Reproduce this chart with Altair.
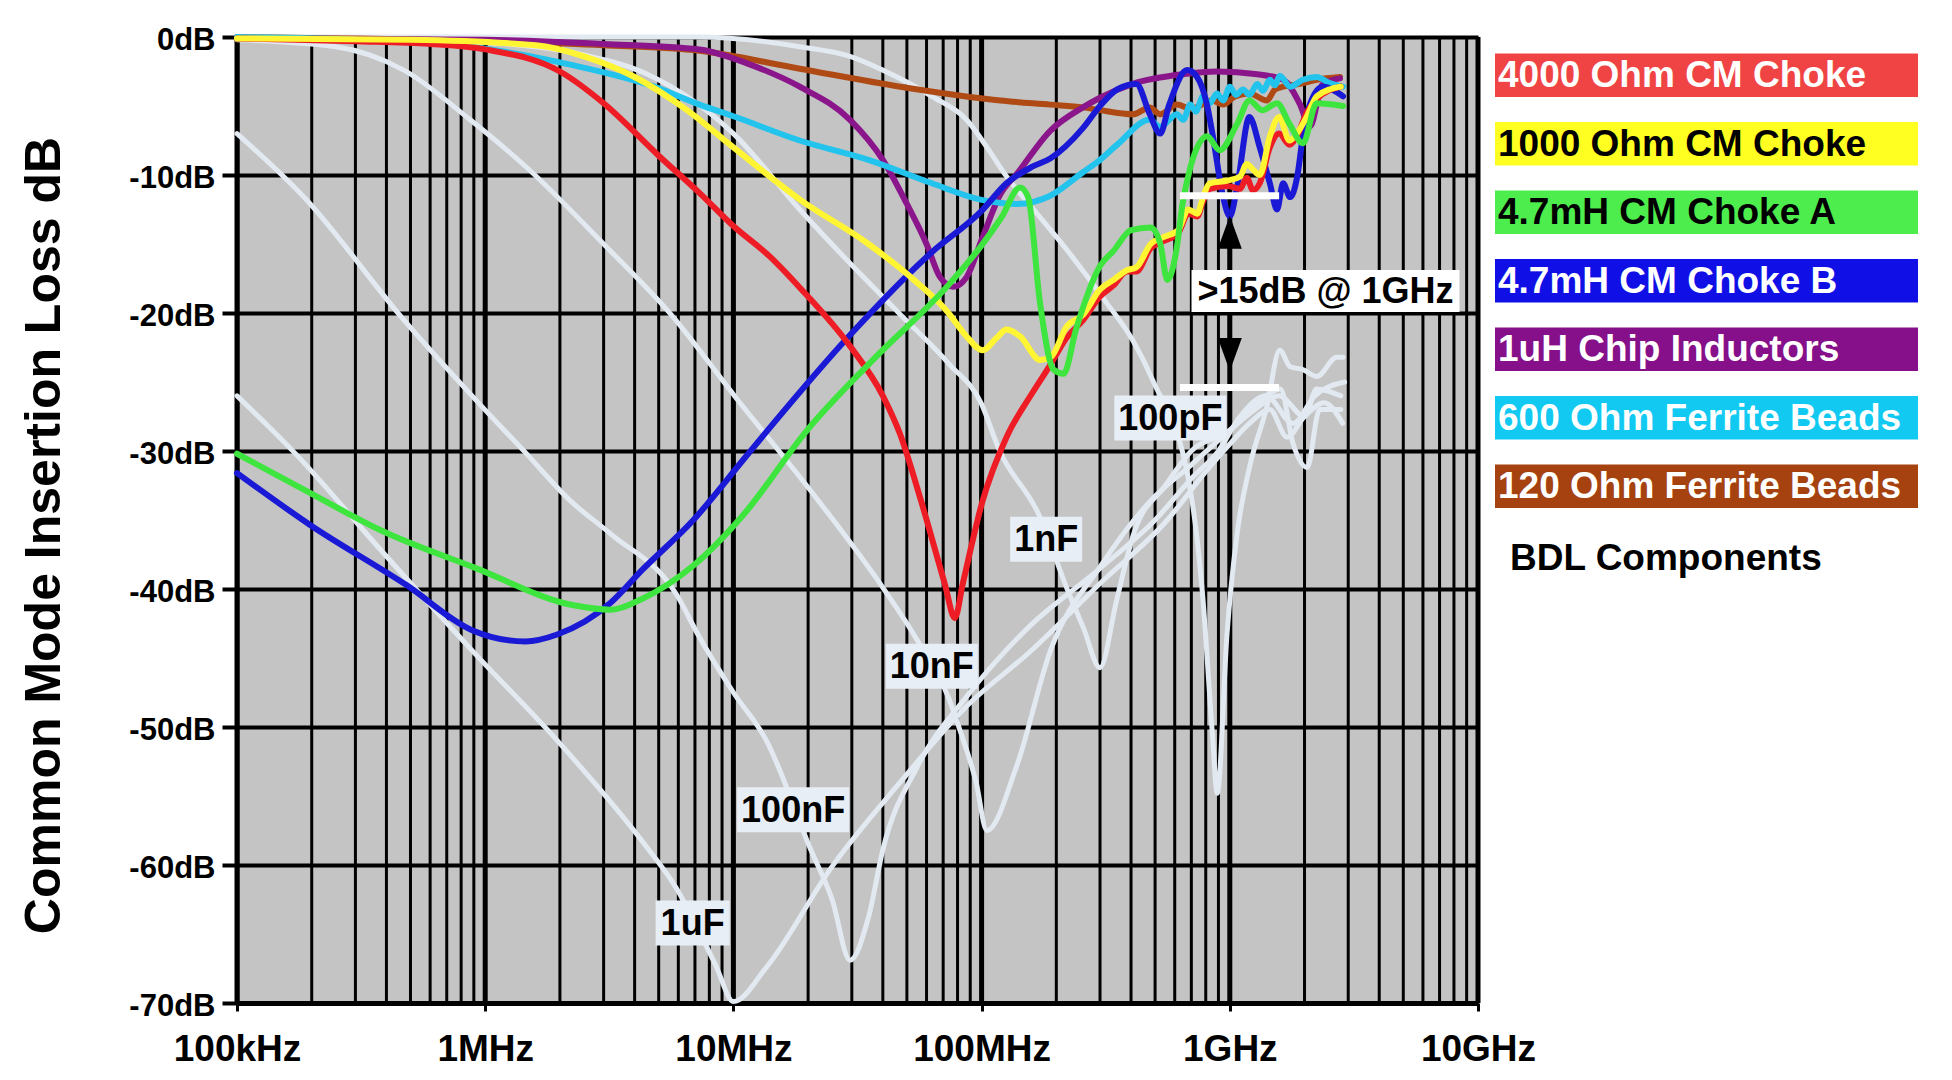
import altair as alt
import pandas as pd

FONT = "Liberation Sans"

# ---------------- data: frequency (Hz) and insertion loss (dB) ----------------
red_f = [1e5, 3e5, 6e5, 1e6, 2e6, 3e6, 5e6, 7.4e6, 1e7, 1.4e7, 1.86e7, 2.95e7, 4e7, 4.7e7, 5.7e7, 7.1e7, 7.8e7, 8.4e7,
         1.01e8, 1.26e8, 1.6e8, 1.9e8, 2.2e8, 2.57e8, 3e8, 3.4e8, 3.85e8, 4.2e8, 4.8e8, 5.4e8, 6.2e8, 6.8e8, 7.4e8,
         7.8e8, 8.3e8, 9.8e8, 1.1e9, 1.17e9, 1.24e9, 1.32e9, 1.45e9, 1.58e9, 1.74e9, 1.86e9, 2.04e9, 2.24e9, 2.8e9]
red_db = [-0.1, -0.3, -0.5, -0.9, -2.5, -4.8, -8.6, -11.4, -13.7, -15.9, -18.2, -22.4, -26.0, -28.8, -33.6, -39.6,
          -42.1, -39.6, -33.6, -29.0, -25.8, -23.7, -21.8, -20.5, -18.8, -18.0, -17.0, -17.0, -15.3, -14.8, -14.2,
          -12.8, -13.0, -11.9, -11.0, -10.8, -11.0, -10.2, -11.1, -10.6, -8.0, -7.0, -7.8, -7.2, -5.5, -4.5, -3.6]

yellow_f = [1e5, 5e5, 1.6e6, 2.5e6, 4e6, 6.5e6, 1e7, 1.86e7, 3.5e7, 5.5e7, 7.2e7, 8.7e7, 1.01e8, 1.15e8, 1.26e8,
            1.43e8, 1.72e8, 1.9e8, 2.2e8, 2.57e8, 3e8, 3.4e8, 3.85e8, 4.2e8, 4.8e8, 5.4e8, 6.2e8, 6.8e8, 7.4e8, 7.8e8,
            8.3e8, 9.8e8, 1.1e9, 1.17e9, 1.24e9, 1.32e9, 1.45e9, 1.58e9, 1.74e9, 1.86e9, 2.04e9, 2.24e9, 2.8e9]
yellow_db = [-0.1, -0.2, -0.6, -1.4, -2.9, -5.3, -8.0, -11.8, -15.0, -17.8, -19.8, -21.7, -22.7, -21.8, -21.2,
             -21.7, -23.4, -23.2, -21.0, -20.1, -18.3, -17.6, -16.9, -16.7, -15.0, -14.5, -14.0, -12.5, -12.8, -11.6,
             -10.6, -10.4, -10.1, -9.2, -9.6, -10.0, -7.2, -5.8, -7.5, -7.0, -5.8, -4.3, -3.6]

green_f = [1e5, 1.86e5, 3.85e5, 8.9e5, 2.3e6, 3.2e6, 4.3e6, 6.9e6, 1.1e7, 1.98e7, 3.6e7, 7.5e7, 1e8, 1.2e8, 1.43e8,
           1.54e8, 1.72e8, 1.95e8, 2.14e8, 2.4e8, 3e8, 3.4e8, 4e8, 4.8e8, 5.25e8, 5.6e8, 6.1e8, 6.45e8, 6.9e8, 8.1e8,
           9.1e8, 1.07e9, 1.2e9, 1.35e9, 1.55e9, 1.74e9, 1.97e9, 2.24e9, 2.86e9]
green_db = [-30.2, -32.8, -35.8, -38.4, -41.2, -41.5, -40.7, -38.3, -34.6, -28.5, -23.5, -17.8, -15.1, -13.1, -10.9,
            -11.6, -19.3, -24.1, -24.4, -21.2, -16.6, -15.5, -14.0, -13.8, -15.0, -17.6, -15.4, -12.1, -9.6, -7.2,
            -8.2, -6.3, -4.6, -5.3, -4.8, -6.3, -7.7, -4.8, -5.0]

blue_f = [1e5, 1.95e5, 4.8e5, 8.9e5, 1.45e6, 1.95e6, 3.2e6, 4.3e6, 6.9e6, 1.1e7, 1.36e7, 2.95e7, 6.3e7, 1e8, 1.26e8,
          1.6e8, 1.89e8, 2.56e8, 3.0e8, 3.52e8, 4.2e8, 4.76e8, 5.24e8, 5.7e8, 6.73e8, 7.38e8, 8.09e8, 8.55e8, 9.4e8,
          1.0e9, 1.07e9, 1.2e9, 1.32e9, 1.45e9, 1.55e9, 1.64e9, 1.75e9, 1.87e9, 1.97e9, 2.1e9, 2.37e9, 2.86e9]
blue_db = [-31.6, -35.3, -39.7, -43.0, -43.8, -43.3, -41.0, -38.6, -35.0, -30.6, -28.6, -21.6, -15.6, -12.6, -10.6,
           -9.4, -8.8, -6.6, -5.0, -3.8, -3.4, -5.6, -7.0, -4.9, -2.4, -2.9, -4.9, -7.2, -11.6, -13.0, -10.9, -5.8,
           -8.0, -10.6, -12.5, -10.6, -11.6, -10.1, -7.2, -4.9, -3.6, -4.3]

purple_f = [1e5, 1e6, 3e6, 7.3e6, 1.17e7, 1.85e7, 2.95e7, 4.0e7, 5.0e7, 6.0e7, 6.8e7, 7.7e7, 8.7e7, 1.01e8, 1.19e8,
            1.39e8, 1.89e8, 2.56e8, 3e8, 4.07e8, 6.47e8, 8.87e8, 1.29e9, 1.64e9, 1.92e9, 2.1e9, 2.37e9, 2.78e9]
purple_db = [-0.1, -0.2, -0.5, -0.9, -2.0, -3.6, -6.0, -8.9, -12.1, -15.0, -17.4, -18.1, -17.4, -14.5, -11.4, -9.9,
             -6.8, -5.1, -4.4, -3.4, -2.7, -2.5, -2.7, -3.1, -4.9, -6.5, -3.4, -3.0]

cyan_f = [1e5, 3e5, 8.7e5, 2.2e6, 4.8e6, 7.3e6, 1.02e7, 1.85e7, 3.5e7, 6.3e7, 1e8, 1.39e8, 1.89e8, 2.56e8, 3e8,
          3.52e8, 4.76e8, 5.24e8, 6.12e8, 6.5e8, 6.92e8, 7.3e8, 7.8e8, 8.3e8, 8.87e8, 9.4e8, 1e9, 1.06e9, 1.13e9,
          1.2e9, 1.29e9, 1.36e9, 1.45e9, 1.52e9, 1.59e9, 1.75e9, 1.97e9, 2.24e9, 2.5e9, 2.86e9]
cyan_db = [0.0, -0.2, -0.7, -2.0, -3.6, -4.9, -5.8, -7.5, -8.9, -10.6, -11.8, -12.1, -11.5, -9.8, -8.9, -7.8, -6.0,
           -6.5, -5.6, -6.0, -4.9, -5.4, -4.3, -4.8, -4.1, -4.6, -3.6, -4.2, -3.8, -4.2, -3.4, -3.9, -3.1, -3.5,
           -2.8, -3.6, -3.1, -2.9, -3.3, -3.6]

brown_f = [1e5, 1e6, 3e6, 7.3e6, 1.85e7, 4.7e7, 1.19e8, 1.89e8, 2.56e8, 3e8, 4.07e8, 4.76e8, 5.24e8, 6.12e8, 7e8,
           8.5e8, 9.4e8, 1.05e9, 1.2e9, 1.41e9, 1.52e9, 1.64e9, 1.92e9, 2.24e9, 2.78e9]
brown_db = [0.0, -0.3, -0.6, -1.0, -2.3, -3.6, -4.6, -4.9, -5.1, -5.3, -5.6, -5.1, -5.6, -4.9, -5.2, -4.6, -4.9,
            -4.3, -4.1, -4.6, -3.8, -3.6, -3.4, -3.1, -2.9]

# capacitor reference curves
c1uF_f = [1e5, 1.7e5, 3.85e5, 8.9e5, 2e6, 4.3e6, 5.9e6, 8.5e6, 1e7, 1.36e7, 2.5e7, 4.7e7, 8.7e7, 1.6e8, 3e8, 5.6e8,
          8e8, 1e9, 1.2e9, 1.45e9, 1.7e9, 2e9, 2.4e9, 2.85e9]
c1uF_db = [-26.0, -30.1, -37.3, -44.5, -51.2, -58.3, -61.7, -67.3, -69.9, -67.4, -60.1, -54.0, -48.5, -44.4, -39.6,
           -35.0, -31.5, -29.5, -28.0, -27.0, -29.0, -27.5, -26.5, -28.0]

c100nF_f = [1e5, 1.86e5, 4.7e5, 9.5e5, 1.45e6, 2.2e6, 3.2e6, 5.9e6, 7.3e6, 1e7, 1.36e7, 2.05e7, 2.5e7, 2.95e7,
            3.5e7, 4e7, 5.5e7, 8.7e7, 1.5e8, 3e8, 5e8, 7e8, 9e8, 1.1e9, 1.4e9, 1.8e9, 2.2e9, 2.9e9]
c100nF_db = [-7.0, -11.6, -20.5, -26.6, -30.1, -33.6, -36.0, -40.4, -43.5, -47.5, -51.0, -58.9, -62.5, -66.9,
             -63.8, -58.9, -52.9, -47.8, -43.0, -38.5, -35.0, -32.0, -30.0, -27.5, -26.0, -28.0, -26.0, -25.0]

c10nF_f = [1e5, 2.5e5, 4.7e5, 8.7e5, 1.5e6, 3e6, 5.6e6, 1.02e7, 2.2e7, 4e7, 5.5e7, 7.4e7, 8.1e7, 9.5e7, 1.05e8,
           1.38e8, 1.9e8, 3e8, 4.8e8, 7e8, 1e9, 1.26e9, 1.58e9, 2e9, 2.24e9, 2.8e9]
c10nF_db = [-0.2, -0.7, -2.4, -6.0, -9.6, -15.0, -20.1, -26.1, -33.6, -39.9, -43.7, -48.0, -50.0, -54.0, -57.5,
            -52.9, -44.4, -38.4, -33.6, -31.0, -28.5, -27.0, -26.0, -27.5, -25.5, -26.0]

c1nF_f = [1e5, 1e6, 2.5e6, 4.5e6, 1e7, 1.85e7, 2.95e7, 4.7e7, 7.4e7, 1e8, 1.17e8, 1.72e8, 2.2e8, 2.57e8, 3e8, 3.5e8,
          4.1e8, 5.5e8, 7e8, 1e9, 1.3e9, 1.6e9, 1.8e9, 2.05e9, 2.3e9, 2.8e9]
c1nF_db = [0.0, -0.4, -1.3, -2.7, -7.0, -12.5, -16.4, -20.1, -23.7, -26.6, -29.8, -34.8, -39.9, -42.8, -45.7, -40.8,
           -36.0, -32.5, -30.0, -28.5, -26.5, -25.5, -29.5, -31.2, -27.0, -27.0]

c100pF_f = [1e5, 7.3e6, 1.85e7, 2.95e7, 4e7, 6.3e7, 8.7e7, 1.07e8, 1.26e8, 1.62e8, 2.2e8, 3.2e8, 4.07e8, 4.9e8,
            6.9e8, 7.8e8, 8.5e8, 8.9e8, 9.75e8, 1.07e9, 1.2e9, 1.41e9, 1.59e9, 1.75e9, 1.97e9, 2.24e9, 2.7e9, 2.86e9]
c100pF_db = [0.0, 0.0, -0.7, -1.4, -2.4, -4.3, -6.0, -8.2, -10.1, -12.5, -15.4, -19.3, -22.0, -24.9, -32.6, -40.8,
             -50.4, -54.8, -43.2, -36.0, -31.2, -26.8, -22.7, -23.9, -24.1, -24.6, -23.2, -23.2]

series_names = ["4000 Ohm CM Choke", "1000 Ohm CM Choke", "4.7mH CM Choke A", "4.7mH CM Choke B",
                "1uH Chip Inductors", "600 Ohm Ferrite Beads", "120 Ohm Ferrite Beads"]
series_data = [(red_f, red_db), (yellow_f, yellow_db), (green_f, green_db), (blue_f, blue_db),
               (purple_f, purple_db), (cyan_f, cyan_db), (brown_f, brown_db)]
cap_data = [(c1uF_f, c1uF_db), (c100nF_f, c100nF_db), (c10nF_f, c10nF_db), (c1nF_f, c1nF_db), (c100pF_f, c100pF_db)]

cap_labels = ["1uF", "100nF", "10nF", "1nF", "100pF"]
cap_label_f = [6.85e6, 1.74e7, 6.3e7, 1.82e8, 5.76e8]
cap_label_db = [-64.2, -56.0, -45.6, -36.4, -27.6]

note_text = ">15dB @ 1GHz"
note_f, note_db = 2.43e9, -18.4
bar_f_lo, bar_f_hi = 6.3e8, 1.58e9
bar_db = [-11.5, -25.4]
arrow_f = 1e9
arrow_up_db, arrow_down_db = -14.15, -23.0

x_tick_values = [1e5, 1e6, 1e7, 1e8, 1e9, 1e10]
x_tick_labels = ["100kHz", "1MHz", "10MHz", "100MHz", "1GHz", "10GHz"]
y_tick_values = [-70, -60, -50, -40, -30, -20, -10, 0]
company = "BDL Components"

# ---------------- styles ----------------
line_colors = ["#ee1c24", "#fff533", "#3ee53e", "#1a1ad6", "#8b168b", "#22c3ec", "#b04a14"]
legend_fills = ["#f04444", "#ffff22", "#4ded4d", "#1010e6", "#85108a", "#12c9f2", "#a5420f"]
legend_text = ["white", "black", "black", "white", "white", "white", "white"]
draw_order = [6, 4, 5, 3, 0, 1, 2]
CAP_COLOR = "#e2e9f1"
BOX_COLOR = "#e8eef5"

label_arr = "[" + ",".join("'%s'" % s for s in x_tick_labels) + "]"
xscale = alt.Scale(type="log", domain=[1e5, 1e10], nice=False)
yscale = alt.Scale(domain=[-70, 0], nice=False, zero=False)
xaxis = alt.Axis(values=x_tick_values, labelExpr=label_arr + "[round(log(datum.value)/LN10) - 5]",
                 grid=False, tickSize=8, tickWidth=3, tickColor="black", domainColor="black",
                 domainWidth=5, labelFont=FONT, labelFontSize=37, labelFontWeight="bold",
                 labelColor="black", labelPadding=20, labelFlush=False, labelOverlap=False, title=None)
yaxis = alt.Axis(values=y_tick_values, labelExpr="datum.value + 'dB'", grid=True, gridColor="black",
                 gridWidth=4, gridOpacity=1, tickSize=15, tickWidth=4, tickColor="black",
                 domainColor="black", domainWidth=4, labelFont=FONT, labelFontSize=31,
                 labelFontWeight="bold", labelColor="black", labelPadding=7, labelOffset=3,
                 labelFlush=False, labelOverlap=False,
                 title="Common Mode Insertion Loss dB", titleFont=FONT, titleFontSize=50,
                 titleFontWeight="bold", titleColor="black", titleX=-193, titleY=498,
                 titleAngle=270, titleAlign="center", titleBaseline="middle")


def X():
    return alt.X("f:Q", scale=xscale, axis=xaxis)


def Y():
    return alt.Y("db:Q", scale=yscale, axis=yaxis)


layers = []

# vertical grid lines
minor_vals = [m * 10 ** e for e in range(5, 10) for m in range(2, 10)]
layers.append(alt.Chart(pd.DataFrame({"f": minor_vals})).mark_rule(color="black", strokeWidth=3).encode(x=X()))
layers.append(alt.Chart(pd.DataFrame({"f": x_tick_values})).mark_rule(color="black", strokeWidth=5).encode(x=X()))

# capacitor curves
for f, d in cap_data:
    df = pd.DataFrame({"f": f, "db": d, "i": list(range(len(f)))})
    layers.append(alt.Chart(df).mark_line(color=CAP_COLOR, strokeWidth=5, interpolate="monotone",
                                          strokeCap="round", strokeJoin="round")
                  .encode(x=X(), y=Y(), order="i:Q"))

# component curves
for k in draw_order:
    f, d = series_data[k]
    df = pd.DataFrame({"f": f, "db": d, "i": list(range(len(f)))})
    layers.append(alt.Chart(df).mark_line(color=line_colors[k], strokeWidth=6, interpolate="monotone",
                                          strokeCap="round", strokeJoin="round")
                  .encode(x=X(), y=Y(), order="i:Q"))

# white reference bars
bars_df = pd.DataFrame({"f": [bar_f_lo] * 2, "f2": [bar_f_hi] * 2, "db": bar_db})
layers.append(alt.Chart(bars_df).mark_rule(color="white", strokeWidth=7).encode(x=X(), x2="f2:Q", y=Y()))

# arrow
shaft_df = pd.DataFrame({"f": [arrow_f], "db": [arrow_up_db], "db2": [arrow_down_db]})
layers.append(alt.Chart(shaft_df).mark_rule(color="black", strokeWidth=4).encode(x=X(), y=Y(), y2="db2:Q"))
layers.append(alt.Chart(pd.DataFrame({"f": [arrow_f], "db": [arrow_up_db]}))
              .mark_point(shape="M-0.727,1L0,-1L0.727,1Z", size=1089, filled=True, color="black", opacity=1)
              .encode(x=X(), y=Y()))
layers.append(alt.Chart(pd.DataFrame({"f": [arrow_f], "db": [arrow_down_db]}))
              .mark_point(shape="M-0.727,-1L0,1L0.727,-1Z", size=1089, filled=True, color="black", opacity=1)
              .encode(x=X(), y=Y()))

# note box
note_df = pd.DataFrame({"f": [note_f], "db": [note_db], "t": [note_text]})
layers.append(alt.Chart(note_df).mark_rect(width=268, height=42, color="white").encode(x=X(), y=Y()))
layers.append(alt.Chart(note_df).mark_text(font=FONT, fontSize=36, fontWeight="bold", color="black",
                                           align="center", baseline="middle", dy=1)
              .encode(x=X(), y=Y(), text="t:N"))

# capacitor labels
for lab, lf, ld in zip(cap_labels, cap_label_f, cap_label_db):
    ldf = pd.DataFrame({"f": [lf], "db": [ld], "t": [lab]})
    w = 8 + 36 * sum(0.611 if ch in "nFp" else 0.556 for ch in lab) + (4 if lab.endswith("uF") else 0)
    layers.append(alt.Chart(ldf).mark_rect(width=w, height=45, color=BOX_COLOR).encode(x=X(), y=Y()))
    layers.append(alt.Chart(ldf).mark_text(font=FONT, fontSize=36, fontWeight="bold", color="black",
                                           align="center", baseline="middle", dy=1)
                  .encode(x=X(), y=Y(), text="t:N"))

# legend (drawn to the right of the plot)
for i, name in enumerate(series_names):
    yc = 38.3 + i * 68.5
    one = pd.DataFrame({"label": [name]})
    layers.append(alt.Chart(one).mark_rect(color=legend_fills[i])
                  .encode(x=alt.value(1258), x2=alt.value(1681), y=alt.value(yc - 21.8), y2=alt.value(yc + 21.8)))
    layers.append(alt.Chart(one).mark_text(font=FONT, fontSize=37, fontWeight="bold", color=legend_text[i],
                                           align="left", baseline="middle")
                  .encode(x=alt.value(1261), y=alt.value(yc + 1), text="label:N"))
layers.append(alt.Chart(pd.DataFrame({"label": [company]}))
              .mark_text(font=FONT, fontSize=37, fontWeight="bold", color="black", align="left", baseline="middle")
              .encode(x=alt.value(1273), y=alt.value(522), text="label:N"))

chart = (alt.layer(*layers)
         .properties(width=1241, height=966, autosize=alt.AutoSizeParams(type="none"),
                     padding={"left": 229, "top": 29, "right": 466, "bottom": 69})
         .configure_view(fill="#c4c4c4", stroke="transparent"))

chart.save("out.html", embed_options={"renderer": "svg", "actions": False})
